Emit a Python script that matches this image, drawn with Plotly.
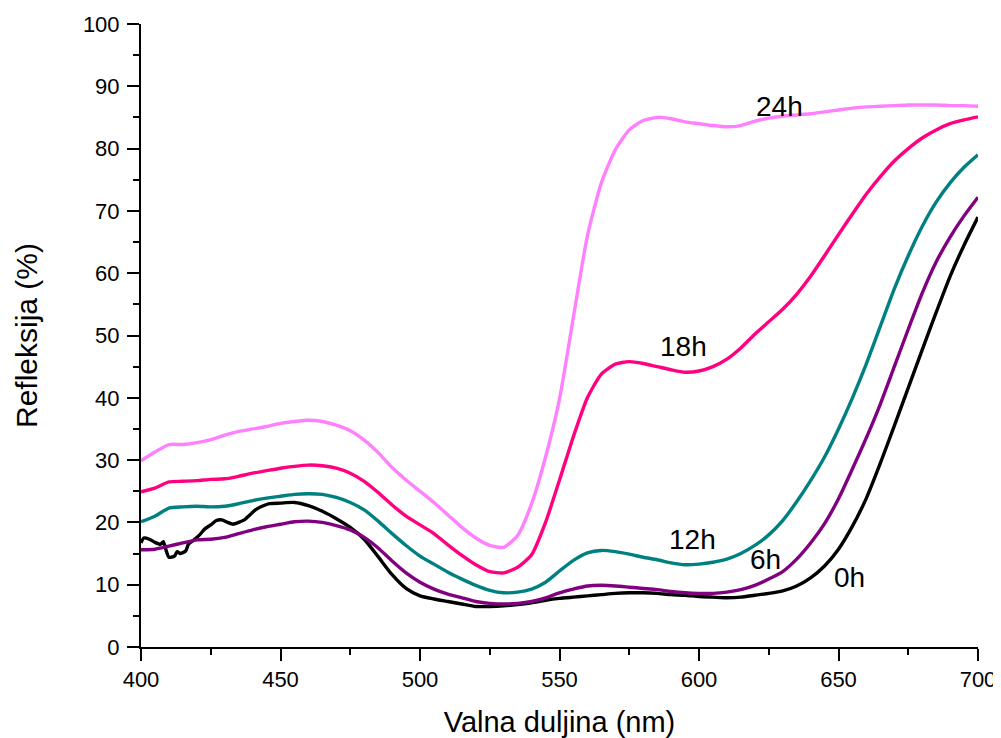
import plotly.graph_objects as go

# ---- data ----
wl_0h = [400, 401, 403, 405, 407, 408, 409, 410, 412, 413, 414, 416, 417, 419, 421, 423, 425, 427, 429,
         431, 433, 435, 437, 439, 441, 443, 446, 450, 455, 460, 465, 470, 475, 480, 485, 490, 495, 500,
         505, 510, 515, 520, 525, 530, 535, 540, 545, 550, 555, 560, 565, 570, 575, 580, 585, 590, 595,
         600, 605, 610, 615, 620, 625, 630, 635, 640, 645, 650, 655, 660, 665, 670, 675, 680, 685, 690,
         695, 700]
r_0h = [16.7, 17.5, 17.3, 16.8, 16.5, 16.9, 15.5, 14.4, 14.6, 15.3, 15.0, 15.4, 16.5, 17.2, 18.0, 19.0,
        19.6, 20.3, 20.4, 20.0, 19.7, 20.0, 20.4, 21.2, 22.0, 22.5, 23.0, 23.1, 23.2, 22.7, 21.8, 20.6,
        19.2, 17.3, 14.5, 11.6, 9.4, 8.2, 7.7, 7.3, 6.9, 6.5, 6.5, 6.6, 6.8, 7.1, 7.5, 7.8, 8.0, 8.2,
        8.4, 8.6, 8.7, 8.7, 8.6, 8.4, 8.3, 8.1, 8.0, 7.9, 8.0, 8.3, 8.6, 9.0, 9.8, 11.1, 13.0, 15.7,
        19.4, 23.9, 29.5, 35.5, 41.6, 47.7, 53.7, 59.5, 64.5, 69.0]

wl_grid = [400, 405, 410, 415, 420, 425, 430, 435, 440, 445, 450, 455, 460, 465, 470, 475, 480, 485,
           490, 495, 500, 505, 510, 515, 520, 525, 530, 535, 540, 545, 550, 555, 560, 565, 570, 575,
           580, 585, 590, 595, 600, 605, 610, 615, 620, 625, 630, 635, 640, 645, 650, 655, 660, 665,
           670, 675, 680, 685, 690, 695, 700]

r_6h = [15.6, 15.7, 16.2, 16.7, 17.2, 17.3, 17.6, 18.2, 18.8, 19.3, 19.7, 20.1, 20.2, 20.0, 19.5, 18.8,
        17.6, 15.9, 13.8, 11.9, 10.4, 9.3, 8.5, 7.9, 7.3, 7.0, 6.9, 7.0, 7.3, 7.9, 8.7, 9.3, 9.8, 9.9,
        9.8, 9.6, 9.4, 9.2, 8.9, 8.7, 8.6, 8.6, 8.8, 9.2, 9.9, 10.9, 12.1, 14.1, 16.7, 19.8, 23.8,
        28.6, 33.6, 39.0, 45.0, 51.0, 56.8, 61.8, 65.8, 69.2, 72.2]

r_12h = [20.1, 21.0, 22.3, 22.5, 22.6, 22.5, 22.6, 23.0, 23.5, 23.9, 24.2, 24.5, 24.6, 24.5, 24.0, 23.2,
         22.0, 20.2, 18.2, 16.3, 14.6, 13.3, 12.0, 10.9, 9.9, 9.1, 8.7, 8.8, 9.3, 10.4, 12.2, 13.9,
         15.1, 15.5, 15.3, 14.9, 14.4, 14.0, 13.5, 13.2, 13.3, 13.6, 14.1, 15.0, 16.3, 18.0, 20.3,
         23.3, 26.7, 30.5, 35.0, 40.0, 45.5, 51.5, 57.5, 62.8, 67.5, 71.4, 74.5, 77.0, 79.0]

r_18h = [24.9, 25.5, 26.5, 26.6, 26.7, 26.9, 27.0, 27.4, 27.9, 28.3, 28.7, 29.0, 29.2, 29.1, 28.7, 27.9,
         26.6, 24.8, 22.8, 21.0, 19.6, 18.2, 16.4, 14.7, 13.2, 12.1, 11.9, 12.8, 14.8, 20.0, 26.8, 33.8,
         40.0, 43.8, 45.4, 45.8, 45.5, 45.0, 44.5, 44.1, 44.3, 45.0, 46.2, 48.0, 50.2, 52.2, 54.2, 56.6,
         59.5, 62.8, 66.2, 69.5, 72.7, 75.5, 78.0, 80.0, 81.7, 83.0, 84.0, 84.6, 85.1]

r_24h = [29.9, 31.3, 32.5, 32.5, 32.8, 33.3, 34.0, 34.6, 35.0, 35.4, 35.9, 36.2, 36.4, 36.2, 35.6, 34.7,
         33.2, 31.2, 28.8, 26.8, 25.0, 23.2, 21.2, 19.2, 17.5, 16.3, 16.0, 17.9, 23.0, 30.5, 39.8, 53.0,
         66.0, 74.5, 79.8, 83.0, 84.5, 85.0, 84.8, 84.3, 84.0, 83.7, 83.5, 83.7, 84.4, 84.9, 85.2, 85.4,
         85.6, 85.9, 86.2, 86.5, 86.7, 86.8, 86.9, 87.0, 87.0, 87.0, 86.9, 86.9, 86.8]

series_names = ["0h", "6h", "12h", "18h", "24h"]
series_colors = ["#000000", "#800080", "#008080", "#FF0080", "#FF80FF"]

label_text = ["24h", "18h", "12h", "6h", "0h"]
label_x = [628.7, 594.3, 597.8, 624.0, 653.8]
label_y = [86.7, 48.2, 17.2, 14.0, 11.1]

x_title = "Valna duljina (nm)"
y_title = "Refleksija (%)"

FONT = "Liberation Sans, Arial, sans-serif"

fig = go.Figure()
xs = [wl_0h, wl_grid, wl_grid, wl_grid, wl_grid]
ys = [r_0h, r_6h, r_12h, r_18h, r_24h]
for name, color, x, y in zip(series_names, series_colors, xs, ys):
    fig.add_trace(go.Scatter(x=x, y=y, mode="lines", name=name,
                             line=dict(color=color, width=3.4, shape="spline", smoothing=0.6)))

for t, lx, ly in zip(label_text, label_x, label_y):
    fig.add_annotation(x=lx, y=ly, text=t, showarrow=False, xanchor="center", yanchor="middle",
                       font=dict(family=FONT, size=28, color="black"))

axis_common = dict(showgrid=False, zeroline=False, showline=True, linecolor="black", linewidth=2,
                   ticks="outside", ticklen=12, tickwidth=2, tickcolor="black", automargin=False,
                   tickfont=dict(family=FONT, size=22, color="black"))

fig.update_xaxes(range=[400, 700], tick0=400, dtick=50, **axis_common,
                 minor=dict(ticks="outside", ticklen=6, tickwidth=2, tickcolor="black", dtick=25, showgrid=False),
                 title=dict(text=x_title, font=dict(family=FONT, size=29, color="black"), standoff=21))
fig.update_yaxes(range=[0, 100], tick0=0, dtick=10, **axis_common, ticklabelstandoff=3,
                 minor=dict(ticks="outside", ticklen=6, tickwidth=2, tickcolor="black", dtick=5, showgrid=False),
                 title=dict(text=y_title, font=dict(family=FONT, size=30, color="black"), standoff=36))

# the page body has an 8px margin, so the figure is placed 8px in from the window edge
fig.update_layout(width=993, height=730, margin=dict(l=133, r=23, t=16, b=91),
                  plot_bgcolor="white", paper_bgcolor="white", showlegend=False,
                  font=dict(family=FONT, color="black"))

fig.write_html("out.html")
